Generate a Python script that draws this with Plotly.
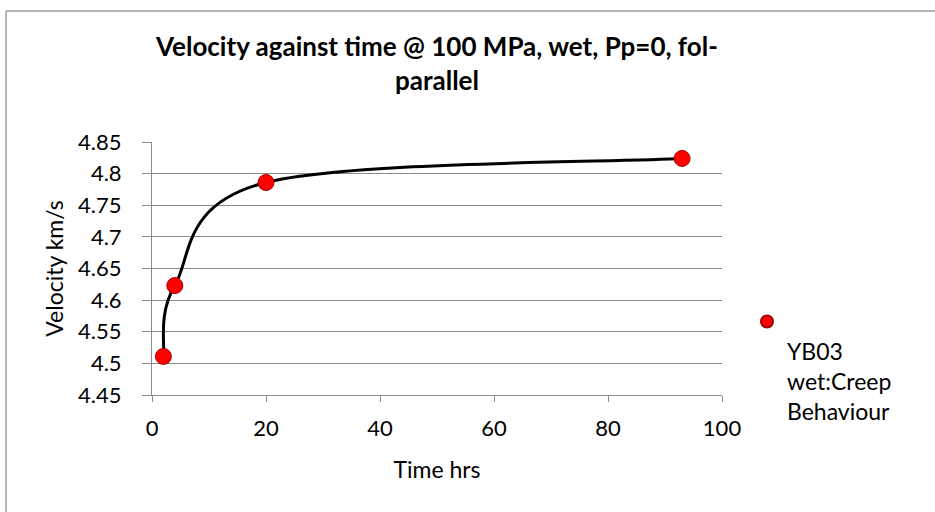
import plotly.graph_objects as go

# Creep measurement: elapsed time (hrs) vs P-wave velocity (km/s)
time_hrs = [2, 4, 20, 93]
velocity_kms = [4.511, 4.623, 4.786, 4.824]
series_name = " <br>YB03<br>wet:Creep<br>Behaviour"
chart_title = "Velocity against time @ 100 MPa, wet, Pp=0, fol-<br>parallel"
x_ticks = [0, 20, 40, 60, 80, 100]
y_ticks = [4.45, 4.5, 4.55, 4.6, 4.65, 4.7, 4.75, 4.8, 4.85]

W, H = 935, 512
L, R, T, B = 152, 213, 142, 117
FONT = "Lato"
GRID = "#8c8c8c"


def smooth_path(xs, ys):
    """Cubic Bezier path through the points (Catmull-Rom style, ends clamped)."""
    n = len(xs)
    px = [xs[0]] + list(xs) + [xs[-1]]
    py = [ys[0]] + list(ys) + [ys[-1]]
    d = f"M{xs[0]},{ys[0]}"
    for i in range(1, n):
        c1x = px[i] + (px[i + 1] - px[i - 1]) / 6
        c1y = py[i] + (py[i + 1] - py[i - 1]) / 6
        c2x = px[i + 1] - (px[i + 2] - px[i]) / 6
        c2y = py[i + 1] - (py[i + 2] - py[i]) / 6
        d += f" C{c1x},{c1y} {c2x},{c2y} {px[i + 1]},{py[i + 1]}"
    return d


fig = go.Figure()

# smoothed connecting curve, drawn in data coordinates
fig.add_shape(type="path", xref="x", yref="y", layer="between",
              path=smooth_path(time_hrs, velocity_kms),
              line=dict(color="black", width=3))

# measured points
fig.add_trace(go.Scatter(
    x=time_hrs, y=velocity_kms, mode="markers", name=series_name,
    showlegend=True,
    marker=dict(color="#ff0000", size=16, line=dict(color="#9e0000", width=1)),
))

# outer chart frame (top and left edges visible)
pw, ph = W - L - R, H - T - B
fx0 = (6 - L) / pw
fy0 = (H - B - 11) / ph
frame = dict(color="#b3b3b3", width=2)
fig.add_shape(type="line", xref="paper", yref="paper",
              x0=fx0, y0=fy0, x1=(W + 5 - L) / pw, y1=fy0, line=frame)
fig.add_shape(type="line", xref="paper", yref="paper",
              x0=fx0, y0=fy0, x1=fx0, y1=(-B - 5) / ph, line=frame)

fig.update_layout(
    width=W, height=H,
    showlegend=True,
    margin=dict(l=L, r=R, t=T, b=B, pad=0),
    paper_bgcolor="white", plot_bgcolor="white",
    font=dict(family=FONT, color="black", size=22),
    title=dict(text=f"<b>{chart_title}</b>", x=437 / W,
               xanchor="center", y=1 - 56 / H, yanchor="middle",
               font=dict(family=FONT, size=26, color="black")),
    xaxis=dict(
        range=[0, 100], tickvals=x_ticks,
        showgrid=False, zeroline=False,
        showline=True, linecolor=GRID, linewidth=1,
        ticks="outside", ticklen=6, tickcolor=GRID,
        ticklabelstandoff=8,
        tickfont=dict(size=22),
        title=dict(text="Time hrs", font=dict(size=23), standoff=21),
    ),
    yaxis=dict(
        range=[4.45, 4.85], tickvals=y_ticks,
        showgrid=True, gridcolor=GRID, gridwidth=1,
        zeroline=False,
        showline=True, linecolor=GRID, linewidth=1,
        ticks="outside", ticklen=9, tickcolor=GRID,
        ticklabelstandoff=16,
        tickfont=dict(size=22), tickformat="~g",
        title=dict(text="Velocity km/s", font=dict(size=23), standoff=8),
    ),
    legend=dict(
        x=(747 - L) / pw, xanchor="left",
        y=(H - B - 300) / ph, yanchor="top",
        font=dict(size=23), itemsizing="constant",
        bgcolor="rgba(0,0,0,0)", valign="top",
    ),
)

fig.write_html("out.html")
